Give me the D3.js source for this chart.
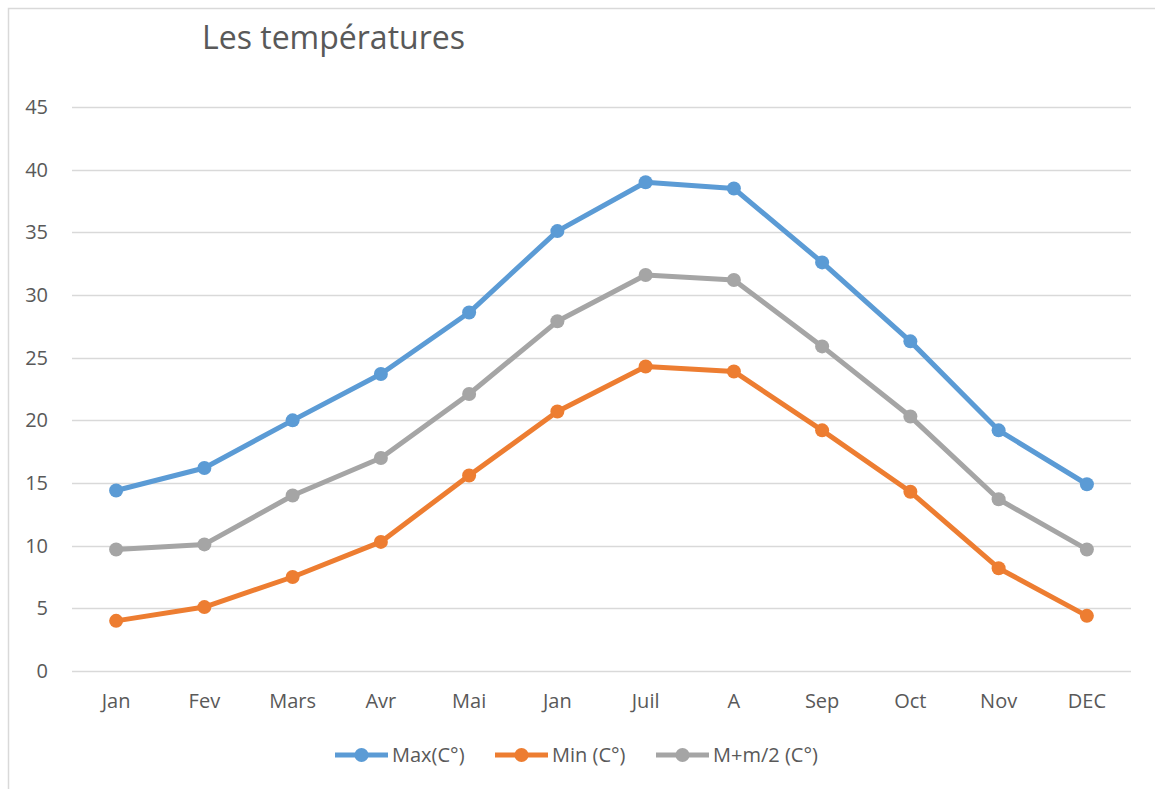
<!DOCTYPE html>
<html>
<head>
<meta charset="utf-8">
<script src="https://cdn.jsdelivr.net/npm/d3@7"></script>
<style>
  body { margin: 0; background: #fff; }
  text { font-family: "Open Sans", Lato, sans-serif; fill: #595959; }
</style>
</head>
<body>
<div id="chart"></div>
<script>
// data
var months = ["Jan", "Fev", "Mars", "Avr", "Mai", "Jan ", "Juil", "A", "Sep", "Oct", "Nov", "DEC"];
var maxTemp = [14.4, 16.2, 20.0, 23.7, 28.6, 35.1, 39.0, 38.5, 32.6, 26.3, 19.2, 14.9];
var minTemp = [4.0, 5.1, 7.5, 10.3, 15.6, 20.7, 24.3, 23.9, 19.2, 14.3, 8.2, 4.4];
var meanTemp = [9.7, 10.1, 14.0, 17.0, 22.1, 27.9, 31.6, 31.2, 25.9, 20.3, 13.7, 9.7];
var seriesNames = ["Max(C°)", "Min (C°)", "M+m/2 (C°)"];
var seriesColors = ["#5B9BD5", "#ED7D31", "#A5A5A5"];
var yTicks = [0, 5, 10, 15, 20, 25, 30, 35, 40, 45];

var width = 1155, height = 789;
var svg = d3.select("#chart").append("svg")
  .attr("width", width).attr("height", height);

// chart area border (top + left visible)
svg.append("path")
  .attr("d", "M8.5," + height + "V8.5H" + width)
  .attr("fill", "none").attr("stroke", "#d9d9d9").attr("stroke-width", 1.5);

svg.append("text")
  .attr("x", 202).attr("y", 49)
  .attr("font-size", "32px")
  .text("Les températures");

var x = d3.scaleBand().domain(months).range([72, 1131]);
var y = d3.scaleLinear().domain([0, 45]).range([671, 107]);

// grid lines
svg.append("g").selectAll("line")
  .data(yTicks).join("line")
  .attr("x1", 72).attr("x2", 1131)
  .attr("y1", function (d) { return Math.round(y(d)) + 0.5; })
  .attr("y2", function (d) { return Math.round(y(d)) + 0.5; })
  .attr("stroke", "#d9d9d9").attr("stroke-width", 1.3);

// y labels
svg.append("g").selectAll("text")
  .data(yTicks).join("text")
  .attr("x", 48).attr("y", function (d) { return y(d) + 7; })
  .attr("text-anchor", "end")
  .attr("font-size", "20px")
  .text(function (d) { return d; });

// x labels
svg.append("g").selectAll("text")
  .data(months).join("text")
  .attr("x", function (d) { return x(d) + x.bandwidth() / 2; })
  .attr("y", 708)
  .attr("text-anchor", "middle")
  .attr("font-size", "20px")
  .text(function (d) { return d.trim(); });

var allSeries = [maxTemp, minTemp, meanTemp];
var line = d3.line()
  .x(function (d, i) { return x(months[i]) + x.bandwidth() / 2; })
  .y(function (d) { return y(d); });

allSeries.forEach(function (vals, k) {
  var g = svg.append("g");
  g.append("path")
    .datum(vals)
    .attr("d", line)
    .attr("fill", "none")
    .attr("stroke", seriesColors[k])
    .attr("stroke-width", 5)
    .attr("stroke-linejoin", "round");
  g.selectAll("circle")
    .data(vals).join("circle")
    .attr("cx", function (d, i) { return x(months[i]) + x.bandwidth() / 2; })
    .attr("cy", function (d) { return y(d); })
    .attr("r", 7)
    .attr("fill", seriesColors[k]);
});

// legend
var legendX = [335, 495, 656];
var legend = svg.append("g");
seriesNames.forEach(function (name, k) {
  var lg = legend.append("g").attr("transform", "translate(" + legendX[k] + ",755)");
  lg.append("line").attr("x1", 0).attr("x2", 53)
    .attr("stroke", seriesColors[k]).attr("stroke-width", 5);
  lg.append("circle").attr("cx", 26.5).attr("r", 7).attr("fill", seriesColors[k]);
  lg.append("text").attr("x", 57).attr("y", 7)
    .attr("font-size", "20px").text(name);
});
</script>
</body>
</html>
